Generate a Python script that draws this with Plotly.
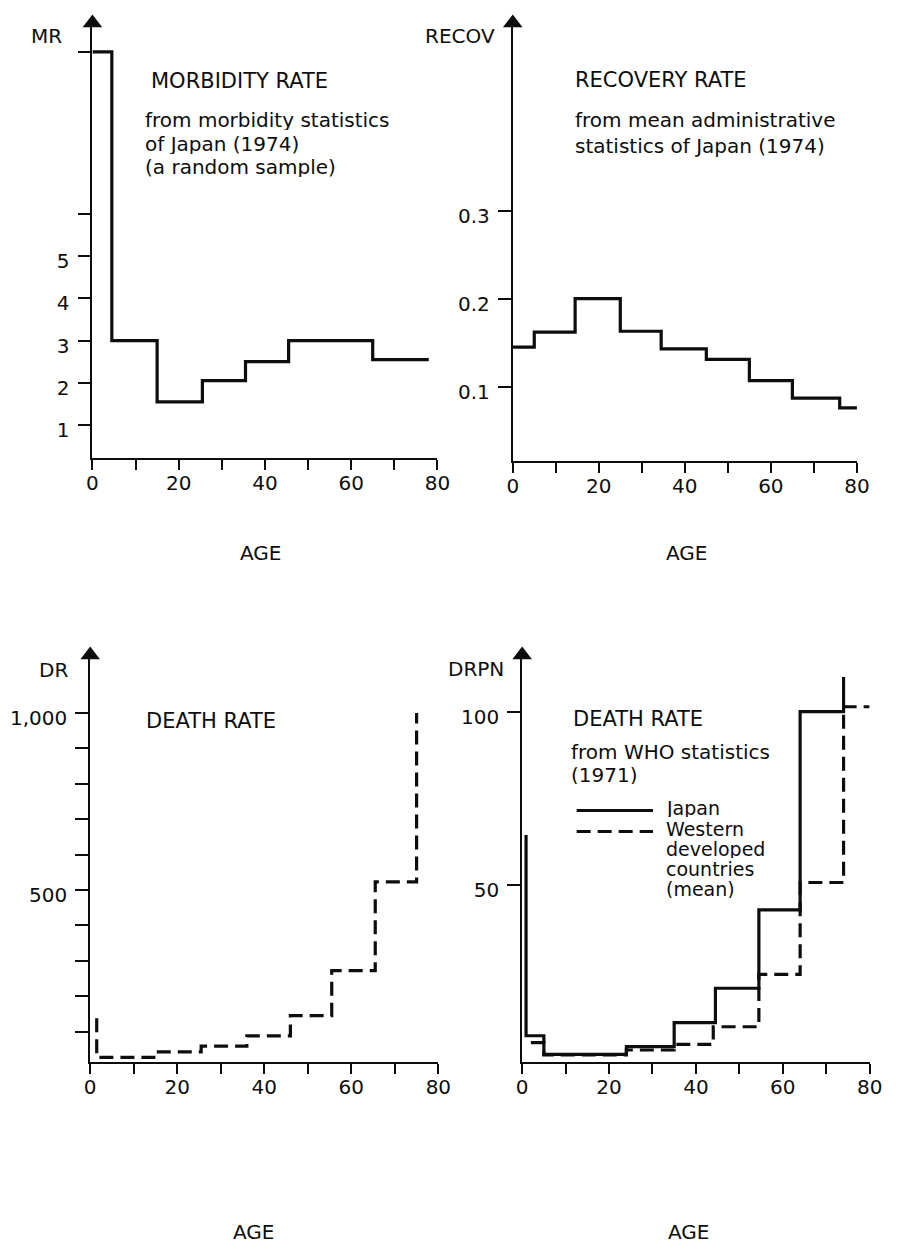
import plotly.graph_objects as go

# ---------------- data ----------------
# Morbidity rate (step function over age groups)
mr_edges = [0, 4.5, 15, 25.5, 35.5, 45.5, 65, 78]
mr_values = [9.84, 3.0, 1.55, 2.05, 2.5, 3.0, 2.55]

# Recovery rate
recov_edges = [0, 5, 14.5, 25, 34.5, 45, 55, 65, 76, 80.3]
recov_values = [0.145, 0.162, 0.2, 0.163, 0.143, 0.131, 0.107, 0.087, 0.076]

# Death rate (dashed)
dr_edges = [1.5, 15, 25.5, 36, 46, 55.5, 65.5, 75]
dr_levels = [27, 43, 59, 88, 145, 272, 523]
dr_infant = 138
dr_last = 1000

# Death rate, WHO statistics: Japan (solid)
jp_edges = [0.9, 5, 24, 35, 44.5, 54.5, 64, 74]
jp_levels = [6.5, 1.15, 3.35, 10.3, 20.2, 42.8, 100]
jp_infant = 64.4
jp_last = 110

# Western developed countries (dashed)
we_edges = [2, 5, 24, 35, 44, 54.5, 64, 74, 80]
we_levels = [4.5, 1.0, 2.4, 4.0, 9.1, 24.2, 50.7, 101.4]

age_ticks = [0, 20, 40, 60, 80]
age_minor = [10, 30, 50, 70]

# ---------------- helpers ----------------
W, H = 898, 1248
FONT = "DejaVu Sans"
INK = "#0d0d0d"


def X(px):
    return px / W


def Y(py):
    return 1 - py / H


fig = go.Figure()

DASH = "14px,7px"


def add_step(xs, ys, xa, ya, dash="solid"):
    fig.add_trace(go.Scatter(
        x=xs, y=ys, mode="lines", line=dict(color=INK, width=3.2, shape="hv", dash=dash),
        xaxis=xa, yaxis=ya, showlegend=False, hoverinfo="skip"))


# panel 1
add_step(mr_edges, mr_values + [mr_values[-1]], "x", "y")
# panel 2
add_step(recov_edges, recov_values + [recov_values[-1]], "x2", "y2")
# panel 3
add_step([dr_edges[0]] + dr_edges, [dr_infant] + dr_levels + [dr_last], "x3", "y3", DASH)
# panel 4
add_step(we_edges, we_levels + [we_levels[-1]], "x4", "y4", DASH)
add_step([jp_edges[0]] + jp_edges, [jp_infant] + jp_levels + [jp_last], "x4", "y4")

# axis geometry (pixels in the page) and ranges
panels = {
    1: dict(xpx=(88.3, 440.7), ypx=(23, 458), yr=((467.2 - 458) / 42.2, (467.2 - 23) / 42.2)),
    2: dict(xpx=(517.7, 869.3), ypx=(23, 461), yr=((474.7 - 461) / 880, (474.7 - 23) / 880)),
    3: dict(xpx=(86, 441.7), ypx=(655, 1061.7), yr=((1067 - 1061.7) / 0.354, (1067 - 655) / 0.354)),
    4: dict(xpx=(527.3, 882.3), ypx=(655, 1061.7), yr=((1058.3 - 1061.7) / 3.467, (1058.3 - 655) / 3.467)),
}

ytick_cfg = {
    1: ([1, 2, 3, 4, 5, 6, mr_values[0]], ["1", "2", "3", "4", "5", "", ""]),
    2: ([0.1, 0.2, 0.3], ["0.1", "0.2", "0.3"]),
    3: ([100 * k for k in range(1, 11)], ["", "", "", "", "500", "", "", "", "", "1,000"]),
    4: ([50, 100], ["50", "100"]),
}

layout = dict(
    width=W, height=H, autosize=False,
    margin=dict(l=0, r=0, t=0, b=0),
    paper_bgcolor="white", plot_bgcolor="white",
    font=dict(family=FONT, size=20, color=INK),
    showlegend=False,
)

for i, p in panels.items():
    sfx = "" if i == 1 else str(i)
    layout["xaxis" + sfx] = dict(
        domain=[X(p["xpx"][0]), X(p["xpx"][1])], range=[0, 80],
        anchor="y" + sfx, showline=True, linecolor=INK, linewidth=1.8,
        showgrid=False, zeroline=False, fixedrange=True,
        tickmode="array", tickvals=age_ticks, ticktext=[str(v) for v in age_ticks],
        ticks="outside", ticklen=10, tickwidth=1.8, tickcolor=INK,
        ticklabelstandoff=-4,
        tickfont=dict(family=FONT, size=20, color=INK),
        minor=dict(tickmode="array", tickvals=age_minor, ticks="outside",
                   ticklen=10, tickwidth=1.8, tickcolor=INK, showgrid=False),
    )
    tv, tt = ytick_cfg[i]
    layout["yaxis" + sfx] = dict(
        domain=[Y(p["ypx"][1]), Y(p["ypx"][0])], range=list(p["yr"]),
        anchor="x" + sfx, showline=True, linecolor=INK, linewidth=1.8,
        showgrid=False, zeroline=False, fixedrange=True,
        tickmode="array", tickvals=tv, ticktext=tt,
        ticks="outside", ticklen=13, tickwidth=1.8, tickcolor=INK,
        ticklabelshift=5, ticklabelstandoff=4,
        tickfont=dict(family=FONT, size=20, color=INK),
    )
    # arrow head at the top of the y axis
    fig.add_trace(go.Scatter(
        x=[0], y=[p["yr"][1]], mode="markers",
        marker=dict(symbol="triangle-up", size=17, color=INK),
        xaxis="x" + sfx, yaxis="y" + sfx, cliponaxis=False,
        showlegend=False, hoverinfo="skip"))

ann = []


def text(s, px, py, xanchor="left", size=20, height=None):
    a = dict(text=s, x=X(px), y=Y(py), xref="paper", yref="paper",
             xanchor=xanchor, yanchor="middle", showarrow=False,
             font=dict(family=FONT, size=size, color=INK))
    if height:
        a["height"] = height
        a["borderpad"] = 0
    ann.append(a)


# y axis names
text("MR", 23, 36)
text("RECOV", 426, 36)
text("DR", 32, 670)
text("DRPN", 450, 669)

# x axis names
text("AGE", 260, 553, "center")
text("AGE", 695, 553, "center")
text("AGE", 253, 1232, "center")
text("AGE", 697, 1232, "center")

# panel 1
text("MORBIDITY RATE", 146, 81, size=21)
text("from morbidity statistics", 141, 120, height=21)
text("of Japan (1974)", 141, 143, height=21)
text("(a random sample)", 141, 167, height=21)

# panel 2
text("RECOVERY RATE", 579, 80, size=21)
text("from mean administrative", 580, 120, height=22)
text("statistics of Japan (1974)", 580, 146, height=22)

# panel 3
text("DEATH RATE", 141, 721, size=21)

# panel 4
text("DEATH RATE", 577, 719, size=21)
text("from WHO statistics", 576, 751, height=19)
text("(1971)", 576, 774, height=19)
text("Japan", 673, 807, size=19, height=19)
text("Western", 673, 828, size=19, height=19)
text("developed", 673, 848, size=19, height=19)
text("countries", 673, 868, size=19, height=19)
text("(mean)", 673, 888, size=19, height=19)

layout["annotations"] = ann
layout["shapes"] = [
    dict(type="line", xref="paper", yref="paper", x0=X(583), x1=X(661), y0=Y(810.5), y1=Y(810.5),
         line=dict(color=INK, width=3.2)),
    dict(type="line", xref="paper", yref="paper", x0=X(583), x1=X(661), y0=Y(831.5), y1=Y(831.5),
         line=dict(color=INK, width=3.2, dash=DASH)),
]

fig.update_layout(**layout)
# remove the browser's default 8px page margin so the figure fills the window exactly
fig.write_html("out.html", config={"displayModeBar": False},
               post_script="document.body.style.margin='0';")
